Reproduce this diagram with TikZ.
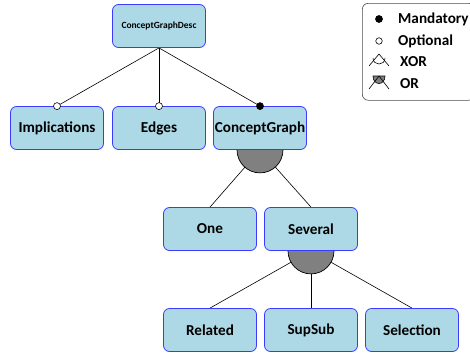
\documentclass[tikz,border=0pt]{standalone}
\usepackage{fontspec}
\setmainfont{Carlito}
\definecolor{boxfill}{HTML}{ADD8E6}
\definecolor{boxline}{HTML}{3B3BFF}
\definecolor{orfill}{HTML}{808080}
\begin{document}
\begin{tikzpicture}[x=1pt,y=-1pt,
  feat/.style={draw=boxline,fill=boxfill,line width=0.8pt,rounded corners=6pt,
    minimum width=93pt,minimum height=43pt,inner sep=0pt,font=\fontsize{15.2}{18}\selectfont\bfseries},
  conn/.style={draw=black,line width=0.6pt},
  mand/.style={fill=black,draw=black,line width=0.6pt},
  opt/.style={fill=white,draw=black,line width=0.6pt},
  ordisk/.style={fill=orfill,draw=black,line width=0.7pt},
  legtext/.style={anchor=west,inner sep=0pt,font=\fontsize{15.2}{18}\selectfont\bfseries}]
\useasboundingbox (0,0) rectangle (470,356);
\fill[white] (0,0) rectangle (470,356);
% node positions
\coordinate (p0) at (159,26);
\coordinate (p1) at (57,128);
\coordinate (p2) at (159,128);
\coordinate (p3) at (260,128);
\coordinate (p4) at (210,229);
\coordinate (p5) at (311,229);
\coordinate (p6) at (210,330);
\coordinate (p7) at (311,330);
\coordinate (p8) at (412,330);
% invisible placement to get anchors
\path node[feat,draw=none,fill=none] (cgd) at (p0) {}
      node[feat,draw=none,fill=none] (impl) at (p1) {}
      node[feat,draw=none,fill=none] (edges) at (p2) {}
      node[feat,draw=none,fill=none] (cg) at (p3) {}
      node[feat,draw=none,fill=none] (one) at (p4) {}
      node[feat,draw=none,fill=none] (sev) at (p5) {}
      node[feat,draw=none,fill=none] (rel) at (p6) {}
      node[feat,draw=none,fill=none] (sup) at (p7) {}
      node[feat,draw=none,fill=none] (sel) at (p8) {};
% connectors
\draw[conn] (cgd.south) -- (impl.north);
\draw[conn] (cgd.south) -- (edges.north);
\draw[conn] (cgd.south) -- (cg.north);
\draw[conn] (cg.south) -- (one.north);
\draw[conn] (cg.south) -- (sev.north);
\draw[conn] (sev.south) -- (rel.north);
\draw[conn] (sev.south) -- (sup.north);
\draw[conn] (sev.south) -- (sel.north);
% OR disks
\draw[ordisk] (cg.south) circle[radius=23pt];
\draw[ordisk] (sev.south) circle[radius=23pt];
% boxes
\node[feat,font=\fontsize{9.5}{11}\selectfont\bfseries] (cgdbox) at (p0) {ConceptGraphDesc};
\node[feat] (implbox) at (p1) {Implications};
\node[feat] (edgesbox) at (p2) {Edges};
\node[feat] (cgbox) at (p3) {ConceptGraph};
\node[feat] (onebox) at (p4) {One};
\node[feat] (sevbox) at (p5) {Several};
\node[feat] (relbox) at (p6) {Related};
\node[feat] (supbox) at (p7) {SupSub};
\node[feat] (selbox) at (p8) {Selection};
% end markers
\draw[opt] (impl.north) circle[radius=3.5pt];
\draw[opt] (edges.north) circle[radius=3.5pt];
\draw[mand] (cg.north) circle[radius=3.5pt];
% legend
\node[draw=black!70,line width=0.6pt,rounded corners=6pt,minimum width=112pt,minimum height=97pt,anchor=north west,inner sep=0pt] (leg) at (362,3) {};
\node[mand,circle,inner sep=0pt,minimum size=7pt] (lm) at (379,19) {};
\node[opt,circle,inner sep=0pt,minimum size=6.5pt] (lo) at (379,41) {};
% XOR icon
\coordinate (xa) at (379,54);
\coordinate (xl) at (373,58);
\coordinate (xr) at (385,58);
\draw[line width=0.6pt] (xa) -- ++(-10,12) (xa) -- ++(10,12);
\draw[line width=0.6pt] (xl) .. controls +(0,8) and +(0,8) .. (xr);
% OR icon
\coordinate (ra) at (379,76);
\coordinate (rl) at (373,76);
\coordinate (rr) at (385,76);
\filldraw[fill=orfill,draw=black,line width=0.6pt] (rl) .. controls +(0,10) and +(0,10) .. (rr) -- cycle;
\draw[line width=0.6pt] (ra) -- ++(-10,13) (ra) -- ++(10,13);
\node[legtext] (tm) at (398,19) {Mandatory};
\node[legtext] (to) at (398,41) {Optional};
\node[legtext] (tx) at (400,62) {XOR};
\node[legtext] (tr) at (400,84) {OR};
\end{tikzpicture}
\end{document}
